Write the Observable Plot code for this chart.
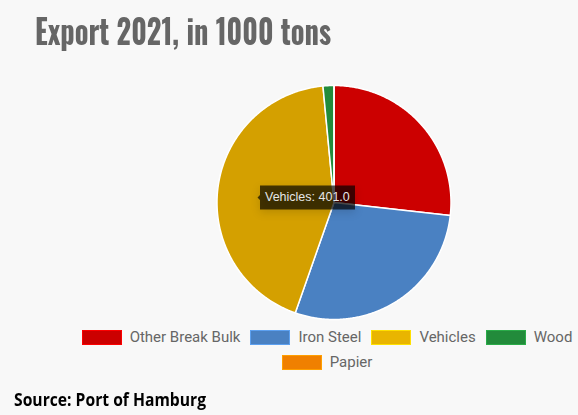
<!DOCTYPE html>
<html>
<head>
<meta charset="utf-8">
<script src="https://cdn.jsdelivr.net/npm/d3@7"></script>
<script src="https://cdn.jsdelivr.net/npm/@observablehq/plot@0.6"></script>
<style>
  html, body { margin: 0; padding: 0; background: #f8f8f8; }
  #wrap { position: relative; width: 578px; height: 415px; background: #f8f8f8; overflow: hidden; }
  #title { position: absolute; left: 35px; top: 14px; font-family: 'Oswald', 'Liberation Sans Narrow', 'DejaVu Sans Condensed', sans-serif; font-weight: 700; font-size: 33px; line-height: 1; color: #666; white-space: nowrap; transform-origin: 0 0; }
  #chart { position: absolute; left: 0; top: 60px; }
  #legend { position: absolute; left: 72px; width: 510px; top: 328px; display: flex; flex-wrap: wrap; justify-content: center; row-gap: 7px; font-family: Roboto, sans-serif; font-size: 15px; color: #666; }
  .item { display: flex; align-items: center; margin: 0 5px; height: 18px; }
  .sw { width: 38px; height: 13px; margin-right: 8px; border: 1px solid; }
  #source { position: absolute; left: 14px; top: 390px; font-family: 'Open Sans', sans-serif; font-weight: 700; font-size: 17px; line-height: 1.2; color: #000; white-space: nowrap; transform-origin: 0 0; }
  [aria-label="tip"] text { fill: #e6e6e6; }
</style>
</head>
<body>
<div id="wrap">
  <div id="title"></div>
  <div id="chart"></div>
  <div id="legend"></div>
  <div id="source"></div>
</div>
<script>
const titleText = "Export 2021, in 1000 tons";
const sourceText = "Source: Port of Hamburg";
const categories = ["Other Break Bulk", "Iron Steel", "Vehicles", "Wood", "Papier"];
const values = [249, 266, 401, 14, 0];
const pieColors = ["#cc0000", "#4a81c2", "#d4a000", "#228b3b", "#f08000"];
const legendColors = ["#cc0000", "#4a81c2", "#e9b500", "#228b3b", "#f08000"];
const tipCategory = "Vehicles";

// title & source
const t = document.getElementById("title");
t.textContent = titleText;
const tw = t.getBoundingClientRect().width;
t.style.transform = `scaleX(${296 / tw})`;
const s = document.getElementById("source");
s.textContent = sourceText;
const sw = s.getBoundingClientRect().width;
s.style.transform = `scaleX(${192 / sw})`;

// pie geometry from data
const data = categories.map((c, i) => ({key: c, value: values[i]}));
const arcs = d3.pie().sort(null).value(d => d.value)(data);
const pts = [];
for (const a of arcs) {
  pts.push({key: a.data.key, x: 0, y: 0});
  const n = Math.max(2, Math.ceil((a.endAngle - a.startAngle) / (Math.PI / 360)));
  for (let k = 0; k <= n; k++) {
    const ang = a.startAngle + (a.endAngle - a.startAngle) * k / n;
    pts.push({key: a.data.key, x: Math.sin(ang), y: Math.cos(ang)});
  }
}
const tipArc = arcs.find(a => a.data.key === tipCategory);
const mid = (tipArc.startAngle + tipArc.endAngle) / 2 - 0.05;
const tipData = [{x: 0.655 * Math.sin(mid), y: 0.655 * Math.cos(mid),
  label: `${tipArc.data.key}: ${tipArc.data.value.toFixed(1)}`}];

const cx = 333.5, cy = 142, r = 117;
const plot = Plot.plot({
  width: 578,
  height: 270,
  margin: 0,
  style: {background: "transparent", overflow: "visible"},
  x: {domain: [-1, 1], range: [cx - r, cx + r], axis: null},
  y: {domain: [-1, 1], range: [cy + r, cy - r], axis: null},
  color: {domain: categories, range: pieColors},
  marks: [
    Plot.line(pts, {x: "x", y: "y", z: "key", fill: "key", stroke: "white", strokeWidth: 1.5, curve: "linear-closed"}),
    Plot.tip(tipData, {x: "x", y: "y", title: "label", anchor: "left", fill: "black", fillOpacity: 0.68, stroke: "none", pointerSize: 5, textPadding: 5, fontSize: 12.5, fontFamily: "Arial, 'Liberation Sans', sans-serif"})
  ]
});
document.getElementById("chart").appendChild(plot);

// legend
const leg = document.getElementById("legend");
categories.forEach((c, i) => {
  const it = document.createElement("div");
  it.className = "item";
  const sq = document.createElement("div");
  sq.className = "sw";
  sq.style.background = legendColors[i];
  sq.style.borderColor = d3.color(legendColors[i]).brighter(0.6).formatHex();
  const lb = document.createElement("span");
  lb.textContent = c;
  it.appendChild(sq); it.appendChild(lb);
  leg.appendChild(it);
});
</script>
</body>
</html>
